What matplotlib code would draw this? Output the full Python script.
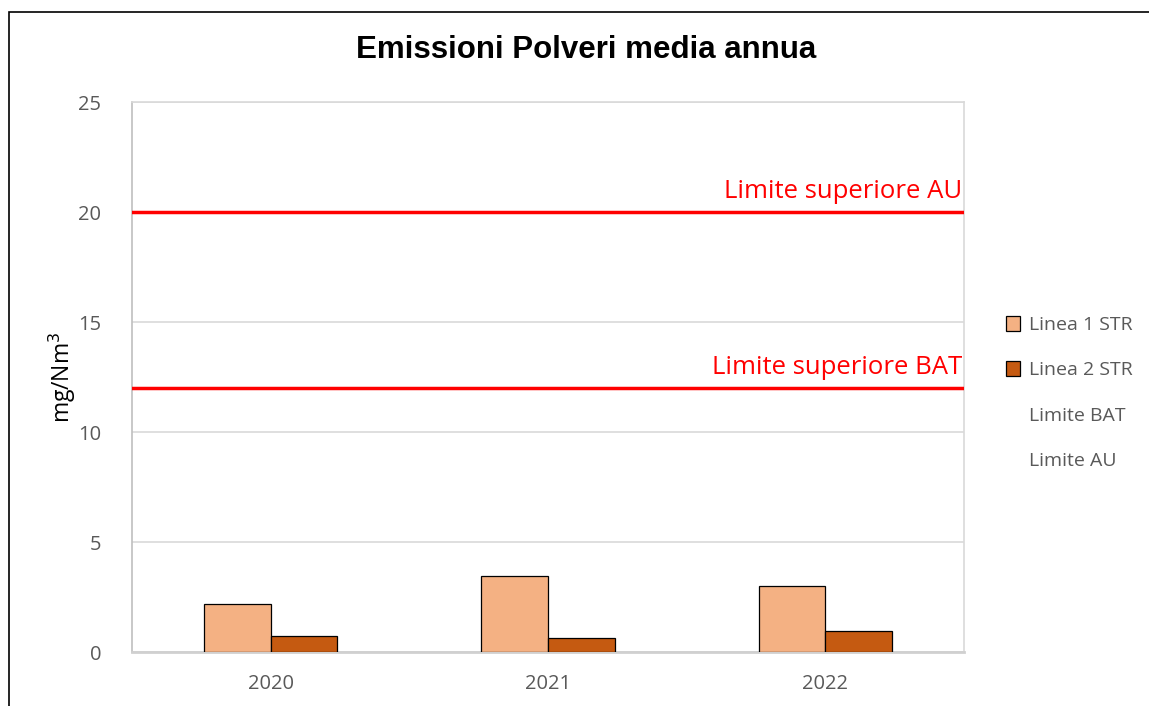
import numpy as np
import matplotlib.pyplot as plt
from matplotlib.patches import Rectangle, Patch
from matplotlib.lines import Line2D

# dati
anni = ['2020', '2021', '2022']
linea1 = [2.2, 3.45, 3.0]
linea2 = [0.73, 0.62, 0.95]
limite_bat = 12
limite_au = 20

plt.rcParams['font.family'] = ['Open Sans', 'DejaVu Sans']

fig = plt.figure(figsize=(11.49, 7.06), dpi=100)
W, H = 1149, 706
ax = fig.add_axes([132 / W, 1 - 652 / H, (964 - 132) / W, (652 - 102) / H])

# cornice esterna
fig.patches.append(Rectangle((9 / W, -0.05), 1.1, 1 - 12 / H + 0.05, transform=fig.transFigure,
                             fill=False, edgecolor='black', linewidth=1.2))

x = np.arange(len(anni))
w = 0.24
ax.bar(x - w / 2, linea1, w, color='#f4b183', edgecolor='black', linewidth=0.9, label='Linea 1 STR', zorder=3)
ax.bar(x + w / 2, linea2, w, color='#c55a11', edgecolor='black', linewidth=0.9, label='Linea 2 STR', zorder=3)

ax.axhline(limite_bat, color='#ff0000', linewidth=2.5, zorder=4)
ax.axhline(limite_au, color='#ff0000', linewidth=2.5, zorder=4)
ax.text(2.492, limite_bat + 0.35, 'Limite superiore BAT', color='#ff0000', fontsize=18.5, ha='right', va='bottom')
ax.text(2.492, limite_au + 0.35, 'Limite superiore AU', color='#ff0000', fontsize=18.5, ha='right', va='bottom')

ax.set_xlim(-0.5, 2.5)
ax.set_ylim(0, 25)
ax.set_yticks([0, 5, 10, 15, 20, 25])
ax.set_xticks(x)
ax.set_xticklabels(anni)
ax.tick_params(colors='#595959', labelsize=14.5, length=0, pad=16)
ax.tick_params(axis='y', pad=22)
ax.grid(axis='y', color='#d9d9d9', linewidth=1.2, zorder=0)
for s in ax.spines.values():
    s.set_color('#d9d9d9')
    s.set_linewidth(1.2)
ax.spines['left'].set_color('#bfbfbf')
ax.spines['bottom'].set_color('#d0d0d0')
ax.spines['bottom'].set_linewidth(2)

ax.set_ylabel('mg/Nm$^3$', fontsize=16.5, color='black', labelpad=0)
fig.text(586 / W, 1 - 50 / H, 'Emissioni Polveri media annua', ha='center', va='center',
         fontsize=22.5, fontweight='bold', family=['Liberation Sans', 'DejaVu Sans'])

handles = [Patch(facecolor='#f4b183', edgecolor='black', linewidth=0.9),
           Patch(facecolor='#c55a11', edgecolor='black', linewidth=0.9),
           Line2D([], [], color='none'),
           Line2D([], [], color='none')]
fig.legend(handles, ['Linea 1 STR', 'Linea 2 STR', 'Limite BAT', 'Limite AU'],
           loc='center left', bbox_to_anchor=(988 / W, 1 - 393 / H), frameon=False,
           fontsize=14, labelcolor='#595959', handlelength=0.75, handleheight=0.75,
           handletextpad=0.45, labelspacing=1.4)

fig.savefig('out.png', dpi=100)
